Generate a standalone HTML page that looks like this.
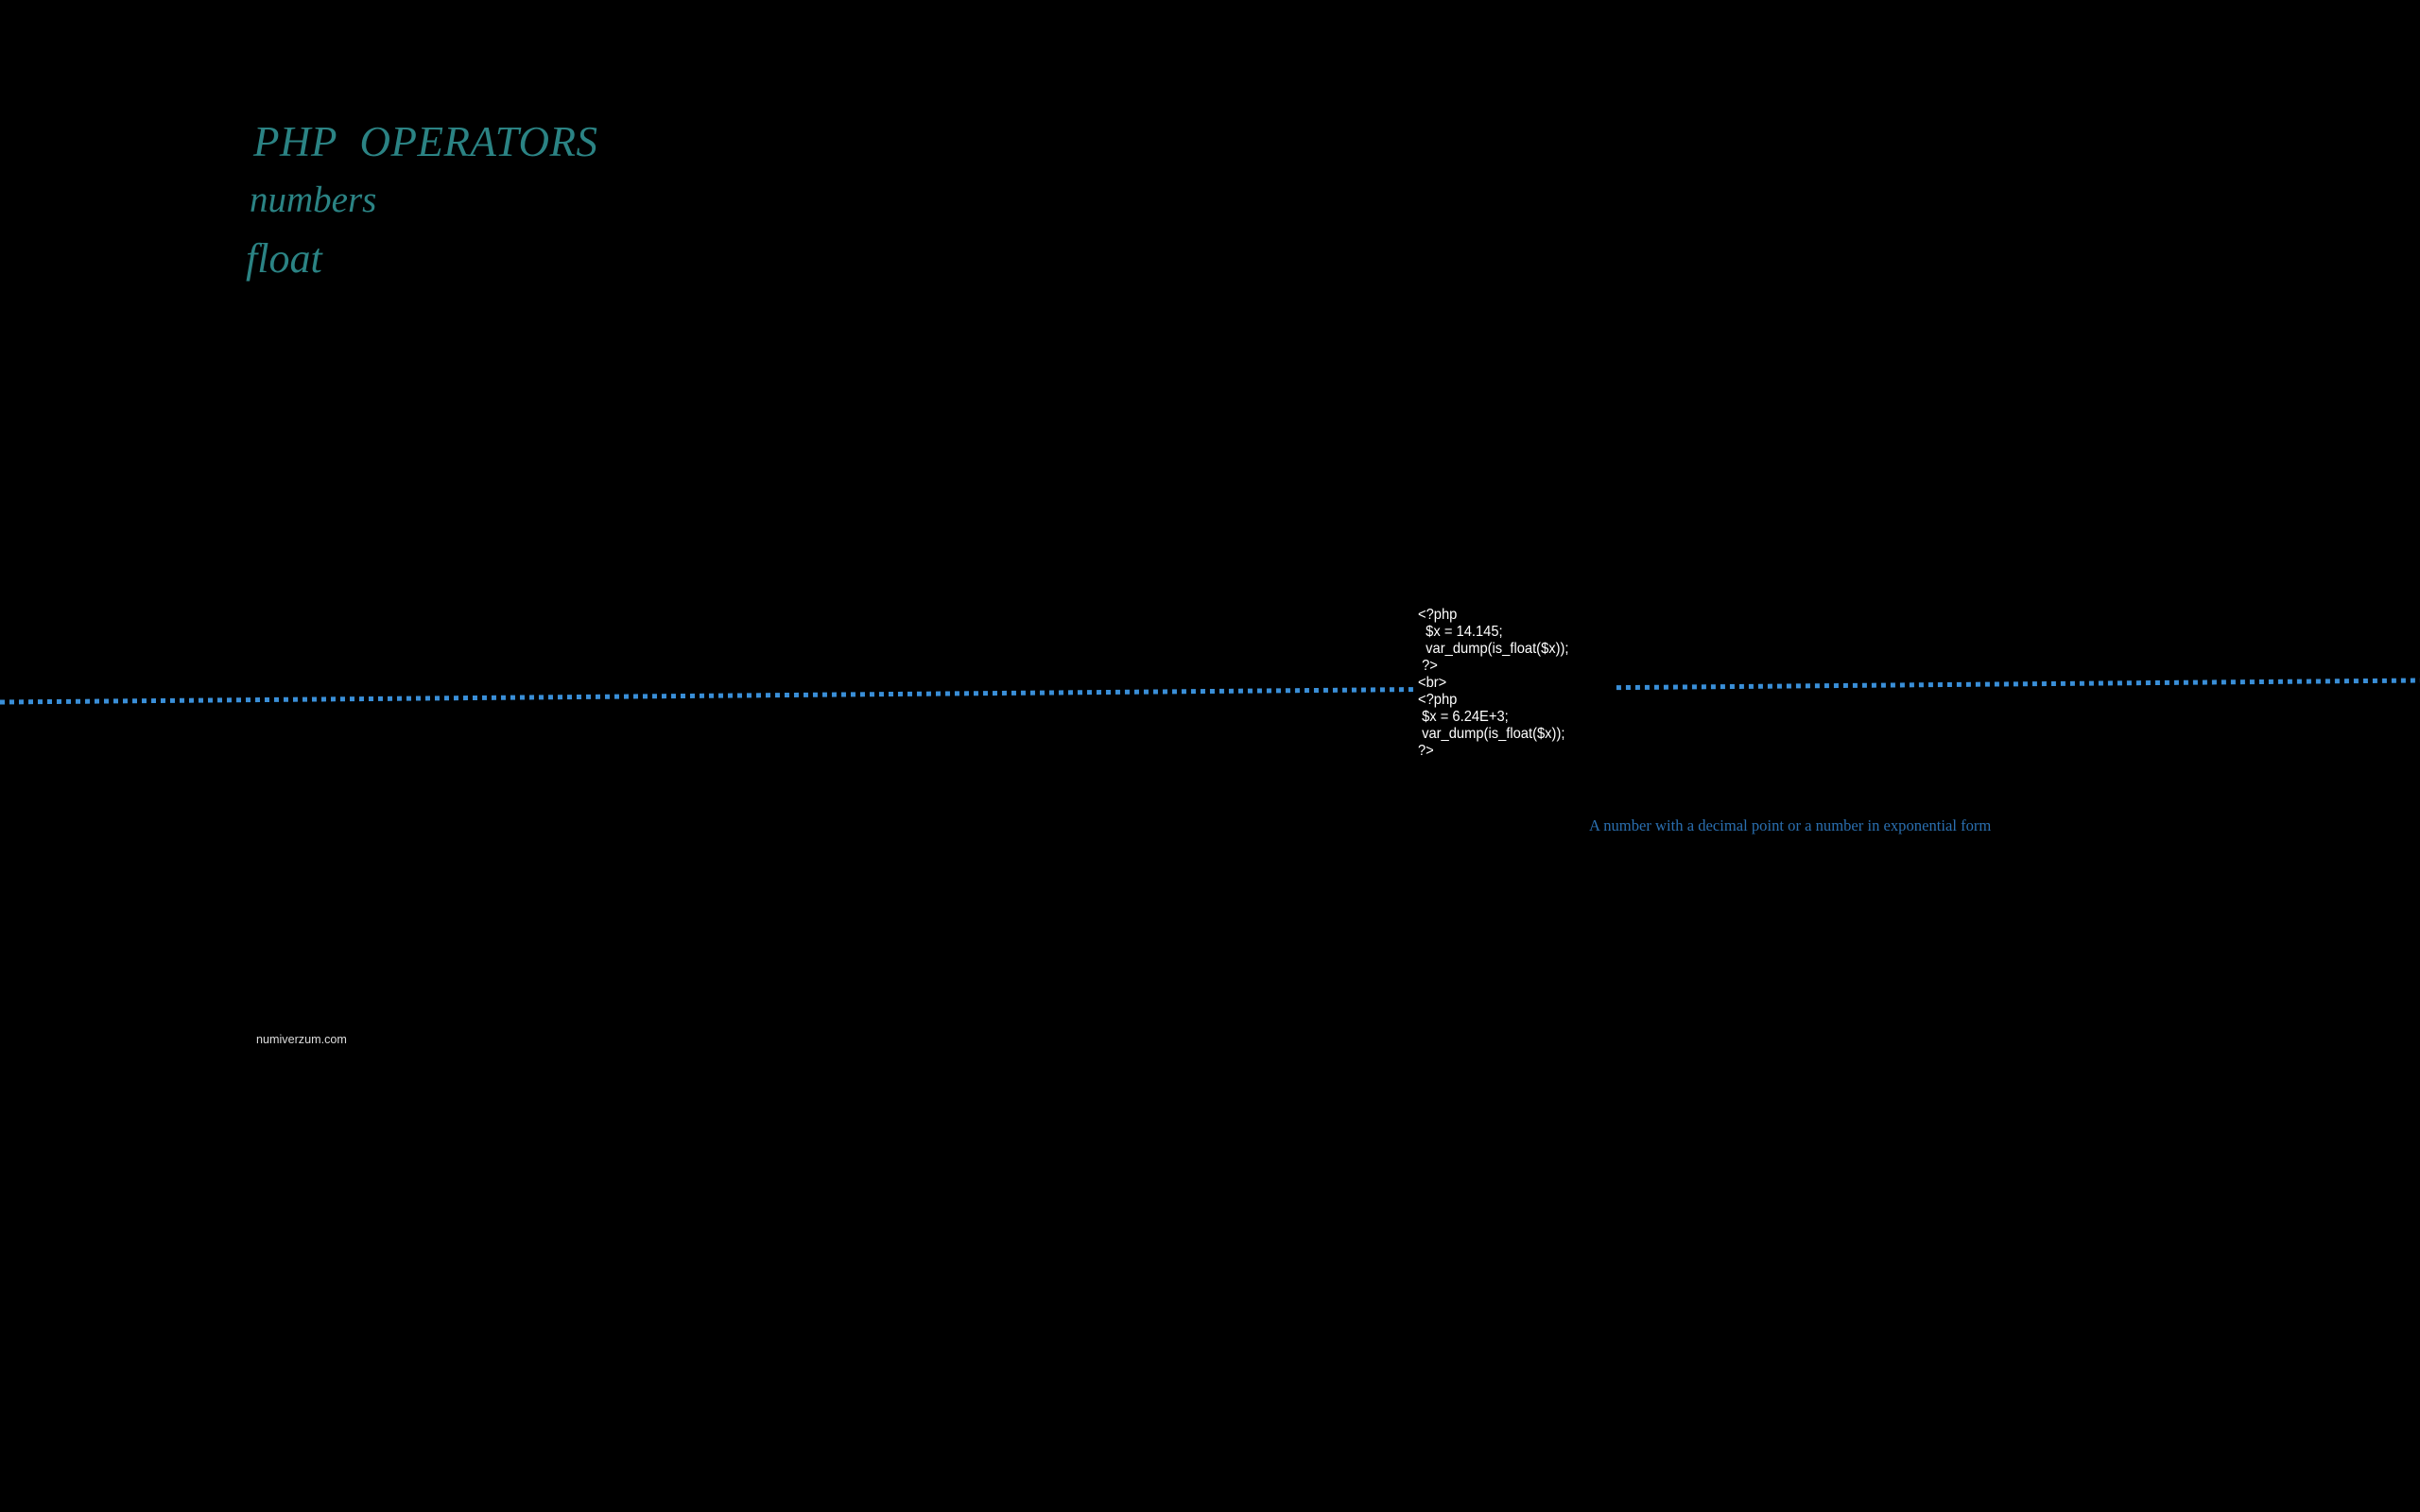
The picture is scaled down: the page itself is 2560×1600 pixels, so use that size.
<!DOCTYPE html>
<html><head><meta charset="utf-8"><style>
html,body{margin:0;padding:0;background:#000;}
body{width:2560px;height:1600px;position:relative;overflow:hidden;}
.t{position:absolute;color:#2b8384;font-family:"Liberation Serif",serif;font-style:italic;white-space:nowrap;}
.code{position:absolute;left:1500px;top:642px;color:#fff;font-family:"Liberation Sans",sans-serif;font-size:16px;line-height:18px;white-space:pre;transform:scaleX(0.92);transform-origin:left top;}
.cap{position:absolute;left:1681px;top:864px;color:#2a6fb0;font-family:"Liberation Serif",serif;font-size:16.6px;white-space:nowrap;}
.foot{position:absolute;left:271px;top:1093px;color:#ddd;font-family:"Liberation Sans",sans-serif;font-size:12.6px;}
</style></head><body>
<svg width="2560" height="1600" style="position:absolute;left:0;top:0">
<line x1="0" y1="743" x2="2560" y2="720" stroke="#3a8fd8" stroke-width="5" stroke-dasharray="5 5"/>
<rect x="1497" y="700" width="208" height="50" fill="#000"/>
</svg>
<div class="t" style="left:268px;top:124px;font-size:45px;letter-spacing:0.5px;">PHP&nbsp; OPERATORS</div>
<div class="t" style="left:264px;top:189px;font-size:39px;">numbers</div>
<div class="t" style="left:260px;top:248px;font-size:44px;">float</div>
<div class="code">&lt;?php
  $x = 14.145;
  var_dump(is_float($x));
 ?&gt;
&lt;br&gt;
&lt;?php
 $x = 6.24E+3;
 var_dump(is_float($x));
?&gt;</div>
<div class="cap">A number with a decimal point or a number in exponential form</div>
<div class="foot">numiverzum.com</div>
</body></html>
